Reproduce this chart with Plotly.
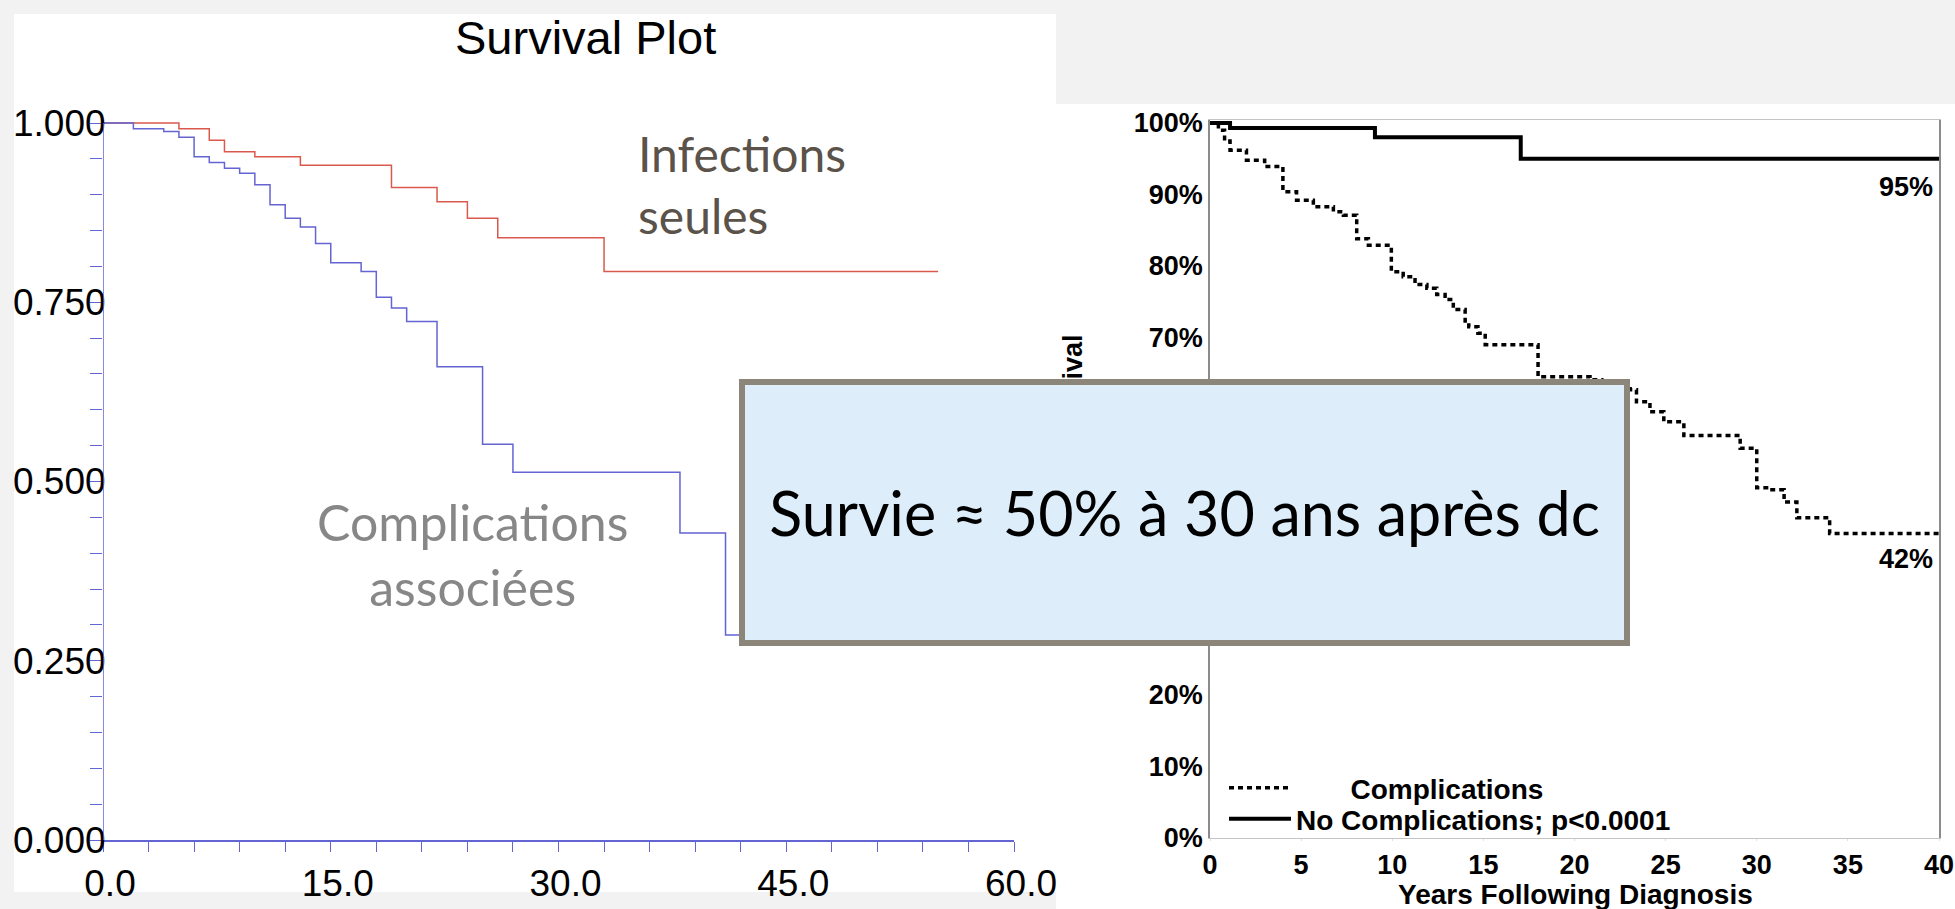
import plotly.graph_objects as go

# ---------------- data ----------------
# Left chart "Survival Plot"
inf_t = [0, 5, 7, 8, 10, 13, 19, 22, 24, 26, 33, 55]
inf_s = [1.0, 0.992, 0.976, 0.960, 0.953, 0.941, 0.910, 0.890, 0.867, 0.840, 0.793, 0.793]

comp_t = [0, 2, 4, 5, 6, 7, 8, 9, 10, 11, 12, 13, 14, 15, 17, 18, 19, 20, 22, 25, 27, 38, 41, 46]
comp_s = [1.0, 0.992, 0.988, 0.980, 0.953, 0.945, 0.937, 0.930, 0.914, 0.886, 0.867, 0.855,
          0.832, 0.805, 0.793, 0.757, 0.742, 0.723, 0.660, 0.552, 0.513, 0.428, 0.286, 0.286]

left_xticks = [0, 15, 30, 45, 60]
left_yticks = [0, 0.25, 0.5, 0.75, 1.0]

# Right chart
rc_t = [0, 0.46, 0.8, 1.1, 2.0, 3.0, 4.0, 4.75, 5.67, 6.77, 7.32, 8.05, 8.69, 9.95, 10.6,
        11.25, 11.9, 12.44, 12.9, 13.35, 14.0, 14.2, 14.7, 15.1, 18.0, 20.85, 21.5, 22.4,
        23.05, 23.4, 24.14, 24.9, 26.0, 29.09, 30.0, 30.7, 31.5, 32.2, 34.0, 40]
rc_s = [100, 99.0, 97.5, 96.2, 94.8, 93.9, 90.4, 89.2, 88.3, 87.6, 87.1, 83.8, 82.9, 79.2,
        78.5, 77.4, 76.9, 76.0, 75.3, 73.9, 72.3, 71.5, 70.6, 69.0, 64.5, 64.1, 63.6, 63.2,
        62.7, 61.0, 59.6, 58.2, 56.3, 54.5, 49.0, 48.7, 47.0, 44.8, 42.6, 42.6]

nc_t = [0, 1.1, 9.05, 17.05, 40]
nc_s = [100, 99.3, 98.0, 95.0, 95.0]

right_xticks = [0, 5, 10, 15, 20, 25, 30, 35, 40]
right_yticks = [0, 10, 20, 30, 40, 50, 60, 70, 80, 90, 100]
right_yticktext = [f"{v}%" for v in right_yticks]

# ---------------- figure ----------------
W, H = 1955, 909
def px(x):
    return x / W
def py(y):
    return 1 - y / H

BLUE = "#6464d2"
RED = "#d95a4c"
ARIAL = "Liberation Sans, Arial, sans-serif"
GILL = "Lato, Gill Sans, sans-serif"

fig = go.Figure()

fig.add_trace(go.Scatter(x=inf_t, y=inf_s, mode="lines", line=dict(color=RED, width=1.5, shape="hv"),
                         xaxis="x", yaxis="y", showlegend=False, name="Infections seules"))
fig.add_trace(go.Scatter(x=comp_t, y=comp_s, mode="lines", line=dict(color=BLUE, width=1.5, shape="hv"),
                         xaxis="x", yaxis="y", showlegend=False, name="Complications associées"))

fig.add_trace(go.Scatter(x=rc_t, y=rc_s, mode="lines",
                         line=dict(color="black", width=3.5, shape="hv", dash="5px,4px"),
                         xaxis="x2", yaxis="y2", legend="legend",
                         name="\u00a0" * 7 + "Complications"))
fig.add_trace(go.Scatter(x=nc_t, y=nc_s, mode="lines",
                         line=dict(color="black", width=4, shape="hv"),
                         xaxis="x2", yaxis="y2", legend="legend2",
                         name="No Complications; p<0.0001"))

bold = dict(family=ARIAL, size=27, color="black", weight="bold")
boldl = dict(family=ARIAL, size=28, color="black", weight="bold")

fig.update_layout(
    width=W, height=H,
    margin=dict(l=0, r=0, t=0, b=0, autoexpand=False),
    paper_bgcolor="#f2f2f2",
    plot_bgcolor="rgba(0,0,0,0)",
    xaxis=dict(domain=[px(103), px(1014)], range=[0, 60], tickvals=left_xticks,
               tickformat=".1f", showgrid=False, zeroline=False, automargin=False,
               showline=True, linecolor=BLUE, linewidth=1.5,
               ticks="outside", ticklen=10, tickcolor=BLUE, tickwidth=1.2,
               minor=dict(dtick=3, tick0=0, ticks="outside", ticklen=10, tickcolor=BLUE, tickwidth=1.2),
               tickfont=dict(family=ARIAL, size=37, color="black"),
               ticklabelshift=7,
               anchor="y", fixedrange=True),
    yaxis=dict(domain=[py(840), py(840 - 1.04 * 717)], range=[0, 1.04], tickvals=left_yticks,
               tickformat=".3f", showgrid=False, zeroline=False, showline=False, automargin=False,
               ticks="outside", ticklen=12, tickcolor=BLUE, tickwidth=1.2,
               minor=dict(dtick=0.05, tick0=0, ticks="outside", ticklen=12, tickcolor=BLUE, tickwidth=1.2),
               tickfont=dict(family=ARIAL, size=37, color="black"),
               ticklabelstandoff=-23,
               anchor="x", fixedrange=True),
    xaxis2=dict(domain=[px(1210), px(1939)], range=[0, 40], tickvals=right_xticks,
                showgrid=False, zeroline=False, showline=True, mirror=True, automargin=False,
                linecolor="#c4c4c4", linewidth=1.2, ticks="outside", ticklen=2,
                tickcolor="#e0e0e0", tickfont=bold,
                anchor="y2", fixedrange=True),
    yaxis2=dict(domain=[py(838), py(838 - 100.4 * 7.15)], range=[0, 100.4], tickvals=right_yticks,
                ticktext=right_yticktext, showgrid=False, zeroline=False, showline=True, mirror=True,
                automargin=False, linecolor="#8c8c8c", linewidth=1.5, ticks="", tickfont=bold,
                anchor="x2", fixedrange=True),
    legend=dict(x=px(1224), y=py(788), xanchor="left", yanchor="middle",
                bgcolor="rgba(0,0,0,0)", font=boldl, itemwidth=62, borderwidth=0),
    legend2=dict(x=px(1224), y=py(819), xanchor="left", yanchor="middle",
                 bgcolor="rgba(0,0,0,0)", font=boldl, itemwidth=62, borderwidth=0),
)

# white slide panels
fig.add_shape(type="rect", xref="paper", yref="paper", x0=px(14), x1=px(1056), y0=py(892), y1=py(14),
              fillcolor="white", line=dict(width=0), layer="below")
fig.add_shape(type="rect", xref="paper", yref="paper", x0=px(1056), x1=1, y0=0, y1=py(104),
              fillcolor="white", line=dict(width=0), layer="below")
# left y axis line (from 0 to 1)
fig.add_shape(type="line", xref="x", yref="y", x0=0, x1=0, y0=0, y1=1.0,
              line=dict(color=BLUE, width=1.5), layer="above")

# texts
fig.add_annotation(text="Survival Plot", xref="paper", yref="paper", x=px(585), y=py(37),
                   xanchor="center", yanchor="middle",
                   showarrow=False, font=dict(family=ARIAL, size=47, color="black"))
fig.add_annotation(text="Infections<br>seules", xref="paper", yref="paper", x=px(636), y=py(123),
                   xanchor="left", yanchor="top", align="left", showarrow=False,
                   font=dict(family=GILL, size=48, color="#5b5249"))
fig.add_annotation(text="Complications<br>associées", xref="paper", yref="paper", x=px(472), y=py(490),
                   xanchor="center", yanchor="top", align="center", showarrow=False,
                   font=dict(family=GILL, size=50, color="#878787"))
fig.add_annotation(text="95%", xref="x2", yref="y2", x=39.8, y=91.0, xanchor="right", yanchor="middle",
                   showarrow=False, font=bold)
fig.add_annotation(text="42%", xref="x2", yref="y2", x=39.8, y=39.0, xanchor="right", yanchor="middle",
                   showarrow=False, font=bold)
fig.add_annotation(text="Years Following Diagnosis", xref="paper", yref="paper", x=px(1575), y=py(894),
                   xanchor="center", yanchor="middle", showarrow=False, font=boldl)
fig.add_annotation(text="Survival", xref="paper", yref="paper", x=px(1072), y=py(333),
                   xanchor="center", yanchor="top", textangle=-90, showarrow=False, font=bold)
# highlighted message box (drawn last, on top)
fig.add_annotation(text="Survie \u2248 50% \u00e0 30 ans apr\u00e8s dc", xref="paper", yref="paper",
                   x=px(739), y=py(379), xanchor="left", yanchor="top",
                   width=879, height=255, align="center", valign="middle",
                   bgcolor="#ddedfa", bordercolor="#8c857a", borderwidth=6, borderpad=0,
                   showarrow=False, font=dict(family=GILL, size=61, color="black"))

fig.write_html("out.html")
